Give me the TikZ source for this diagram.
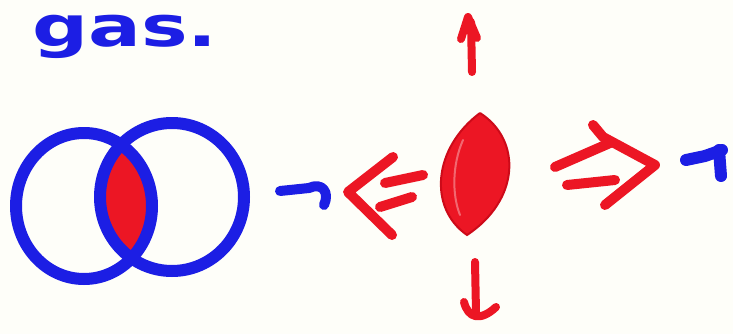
\documentclass[tikz,border=0pt]{standalone}
\usepackage{fontspec}
\newfontfamily\handfont{DejaVu Sans}
\definecolor{penblue}{RGB}{28,30,228}
\definecolor{penred}{RGB}{236,22,36}
\definecolor{darkred}{RGB}{205,10,25}
\definecolor{paper}{RGB}{254,254,249}
\tikzset{
  bluepen/.style={draw=penblue, line width=12pt, line cap=round, line join=round},
  redpen/.style={draw=penred, line width=10pt, line cap=round, line join=round},
  thinred/.style={draw=penred, line width=8pt, line cap=round, line join=round},
}
\begin{document}
\begin{tikzpicture}[x=1pt,y=-1pt]
\fill[paper] (0,0) rectangle (733,334);
\useasboundingbox (0,0) rectangle (733,334);
\clip (0,0) rectangle (733,334);
% title
\node[anchor=base west, inner sep=0pt, text=penblue, font=\handfont\bfseries\fontsize{56}{56}\selectfont, xscale=1.4] (title) at (32,47) {gas.};
% overlapping rings with red intersection
\begin{scope}
  \clip (84,206) ellipse [x radius=68pt, y radius=73pt];
  \fill[penred] (172,197) ellipse [x radius=72pt, y radius=74pt];
\end{scope}
\draw[bluepen] (84,206) ellipse [x radius=68pt, y radius=73pt];
\draw[bluepen] (172,197) ellipse [x radius=72pt, y radius=74pt];
% blue arrow between
\draw[bluepen, line width=10pt] (280,191) -- (309,188) .. controls (322,182) and (330,192) .. (324,205);
% left double arrow
\draw[redpen] (393,157) -- (348,192) -- (392,235);
\draw[redpen] (385,183) -- (423,175);
\draw[redpen] (380,207) -- (412,197);
% central lens
\filldraw[fill=penred, draw=darkred, line width=2pt] (480,113) .. controls (522,140) and (520,200) .. (467,235) .. controls (428,208) and (433,148) .. (480,113);
\draw[white, opacity=0.35, line width=2pt, line cap=round] (463,140) .. controls (452,165) and (452,195) .. (460,215);
% up arrow
\draw[thinred] (472,72) -- (471,22);
\draw[thinred] (461,39) -- (468,17) -- (477,38);
% down arrow
\draw[thinred] (475,262) -- (476,312);
\draw[thinred] (464,302) .. controls (468,318) and (480,322) .. (496,307);
% right double arrow
\draw[redpen] (593,125) -- (603,137) -- (655,165) -- (605,205);
\draw[redpen] (555,167) -- (610,143);
\draw[redpen] (567,185) -- (615,180);
% blue mark right
\draw[bluepen] (686,160) -- (705,156) -- (722,150);
\draw[bluepen] (719,150) -- (721,176);
\end{tikzpicture}
\end{document}
